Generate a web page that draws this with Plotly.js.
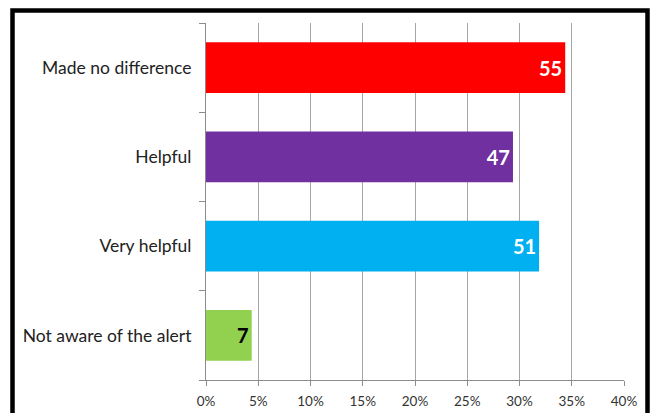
<!DOCTYPE html>
<html>
<head>
<meta charset="utf-8">
<script src="https://cdn.plot.ly/plotly-3.0.1.min.js"></script>
<style>
  html, body { margin: 0; padding: 0; background: #fff; }
  #chart { width: 654px; height: 413px; }
</style>
</head>
<body>
<div id="chart"></div>
<script>
// Categories listed bottom to top (Plotly draws first category at the bottom)
const categories = ["Not aware of the alert", "Very helpful", "Helpful", "Made no difference"];
const counts = [7, 51, 47, 55];
const total = 160;
const barColors = ["#92D050", "#00B0F0", "#7030A0", "#FF0000"];
const labelColors = ["#000000", "#FFFFFF", "#FFFFFF", "#FFFFFF"];
const tickVals = [0, 0.05, 0.10, 0.15, 0.20, 0.25, 0.30, 0.35, 0.40];
const tickLabels = ["0%", "5%", "10%", "15%", "20%", "25%", "30%", "35%", "40%"];

const shares = counts.map(c => c / total);

const trace = {
  type: "bar",
  orientation: "h",
  y: categories,
  x: shares,
  marker: { color: barColors },
  text: counts.map(String),
  textposition: "inside",
  insidetextanchor: "end",
  textangle: 0,
  textfont: { family: "Lato, 'Open Sans', sans-serif", size: 20, color: labelColors, weight: "bold" },
  hoverinfo: "skip",
  cliponaxis: false
};

const layout = {
  width: 654,
  height: 413,
  margin: { l: 206, r: 30, t: 23, b: 33 },
  paper_bgcolor: "#ffffff",
  plot_bgcolor: "#ffffff",
  showlegend: false,
  bargap: 0.43,
  font: { family: "Lato, 'Open Sans', sans-serif", color: "#222" },
  xaxis: {
    range: [0, 0.40],
    tickvals: tickVals,
    ticktext: tickLabels,
    showgrid: true,
    gridcolor: "#a6a6a6",
    gridwidth: 1,
    zeroline: false,
    showline: true,
    linecolor: "#8c8c8c",
    linewidth: 1,
    ticks: "outside",
    ticklen: 5,
    tickcolor: "#8c8c8c",
    ticklabelstandoff: 4,
    tickfont: { size: 13.5, color: "#333" },
    fixedrange: true
  },
  yaxis: {
    type: "category",
    showgrid: false,
    zeroline: false,
    showline: true,
    linecolor: "#8c8c8c",
    linewidth: 1,
    ticks: "outside",
    tickson: "boundaries",
    ticklen: 6,
    tickcolor: "#8c8c8c",
    ticklabelstandoff: 10,
    tickfont: { size: 17.5, color: "#222" },
    fixedrange: true
  },
  shapes: [
    {
      type: "rect",
      xref: "paper", yref: "paper",
      x0: (12.5 - 206) / 418,
      x1: (647.5 - 206) / 418,
      y0: (380 - 430) / 357,
      y1: (380 - 10.5) / 357,
      line: { color: "#000", width: 4.5 },
      fillcolor: "rgba(0,0,0,0)",
      layer: "above"
    }
  ]
};

Plotly.newPlot("chart", [trace], layout, { displayModeBar: false, staticPlot: true });
</script>
</body>
</html>
